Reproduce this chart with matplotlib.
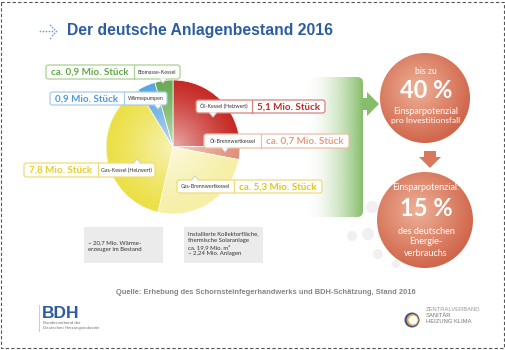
import numpy as np
import matplotlib
matplotlib.use("Agg")
import matplotlib.pyplot as plt
from matplotlib.patches import FancyBboxPatch, Circle, Polygon, Rectangle
from matplotlib.lines import Line2D
from matplotlib.colors import to_rgb

# ---------------- data ----------------
title = "Der deutsche Anlagenbestand 2016"
categories = ["Öl-Kessel (Heizwert)", "Öl-Brennwertkessel", "Gas-Brennwertkessel",
              "Gas-Kessel (Heizwert)", "Wärmepumpen", "Biomasse-Kessel"]
values = [5.1, 0.7, 5.3, 7.8, 0.9, 0.9]          # Mio. Stück
value_labels = ["5,1 Mio. Stück", "ca. 0,7 Mio. Stück", "ca. 5,3 Mio. Stück",
                "7,8 Mio. Stück", "0,9 Mio. Stück", "ca. 0,9 Mio. Stück"]
circle1_lines = ["bis zu", "40 %", "Einsparpotenzial", "pro Investitionsfall"]
circle2_lines = ["Einsparpotenzial:", "15 %", "des deutschen", "Energie-", "verbrauchs"]
note1 = "~ 20,7 Mio. Wärme-\nerzeuger im Bestand"
note2 = "Installierte Kollektorfläche,\nthermische Solaranlage\nca. 19,9 Mio. m²\n~ 2,24 Mio. Anlagen"
source = "Quelle: Erhebung des Schornsteinfegerhandwerks und BDH-Schätzung, Stand 2016"

# ---------------- style ----------------
slice_colors = ["#c62a25", "#e2917a", "#f6efa6", "#ece046", "#5ba6e0", "#6aab52"]
text_colors = ["#c0302a", "#e59c7e", "#e3c51c", "#e6cf2a", "#4d9ad6", "#62a64a"]
edge_colors = ["#d9827a", "#efbfa9", "#eedc78", "#efdc78", "#a6cdef", "#a9d192"]
# (x0, x1, y0, y1, xdiv, big_on_left, pointer_x, pointer_dir)
label_layout = [
    (196, 325, 100, 113, 252, False, 213, 1),
    (204, 349, 134, 148, 261, False, 225, 1),
    (177, 322, 180, 193, 234, False, 195, -1),
    (24, 155, 163, 177, 98, True, 137, -1),
    (50, 167, 92, 105, 124, True, 158, 1),
    (46, 180, 65, 79, 134, True, 163, 1),
]
SANS = ["Lato", "DejaVu Sans"]
ARIAL = ["Liberation Sans", "DejaVu Sans"]

W, H = 506, 350
fig = plt.figure(figsize=(W / 100, H / 100), dpi=100)
ax = fig.add_axes([0, 0, 1, 1])

# ---------------- pie ----------------
cx, cy, R = 173, 147, 67
wedges, _ = ax.pie(values, colors=slice_colors, startangle=-90, counterclock=True,
                   center=(cx, cy), radius=R, frame=True,
                   wedgeprops=dict(edgecolor="white", linewidth=0.5))
for w in wedges:
    w.set_zorder(2)

n = 300
yy, xx = np.mgrid[-1:1:n * 1j, -1:1:n * 1j]
rr = np.sqrt(xx ** 2 + yy ** 2)
img = np.ones((n, n, 4))
img[..., 3] = np.clip(0.62 * (1 - rr) ** 1.3, 0, 1)
im = ax.imshow(img, extent=(cx - R, cx + R, cy + R, cy - R), zorder=3, interpolation="bilinear")
im.set_clip_path(Circle((cx, cy), R, transform=ax.transData))

# ---------------- label boxes ----------------
for i, (x0, x1, y0, y1, xd, big_left, px, pdir) in enumerate(label_layout):
    ec = edge_colors[i]
    box = FancyBboxPatch((x0, y0), x1 - x0, y1 - y0,
                         boxstyle="round,pad=0,rounding_size=2.5",
                         fc="white", ec=ec, lw=0.9, zorder=5)
    ax.add_patch(box)
    ax.add_line(Line2D([xd, xd], [y0, y1], color=ec, lw=0.9, zorder=6))
    if pdir > 0:
        base, tip = y1, y1 + 4
    else:
        base, tip = y0, y0 - 4
    ax.add_patch(Polygon([(px - 3.5, base - pdir * 0.6), (px, tip), (px + 3.5, base - pdir * 0.6)],
                         closed=True, fc="white", ec="none", zorder=6))
    ax.add_line(Line2D([px - 3.5, px, px + 3.5], [base, tip, base], color="#cfcfcf", lw=0.7, zorder=6))
    ym = (y0 + y1) / 2
    if big_left:
        bx, sx = (x0 + xd) / 2, (xd + x1) / 2
    else:
        sx, bx = (x0 + xd) / 2, (xd + x1) / 2
    ax.text(bx, ym + 0.3, value_labels[i], color=text_colors[i], fontsize=7.1,
            fontweight="bold", family=SANS, ha="center", va="center", zorder=7)
    ax.text(sx, ym + 0.2, categories[i], color="#333333", fontsize=3.8,
            family=SANS, ha="center", va="center", zorder=7)

# ---------------- decorative grey dots ----------------
for (dx, dy, dr) in [(372, 207, 6), (352, 236, 5), (368, 234, 6), (384, 233, 6),
                     (378, 254, 5), (396, 264, 4)]:
    ax.add_patch(Circle((dx, dy), dr, fc="#f0f0f0", ec="none", zorder=0.5))

# ---------------- green arrow ----------------
gx0, gx1, gy0, gy1 = 305, 363, 77, 217
green = to_rgb("#86bd6a")
grad = np.zeros((1, 256, 4))
grad[..., :3] = green
grad[..., 3] = np.linspace(0, 1, 256) ** 1.8
gim = ax.imshow(grad, extent=(gx0, gx1, gy1, gy0), aspect="auto", zorder=1, interpolation="bilinear")
gclip = FancyBboxPatch((gx0, gy0), gx1 - gx0, gy1 - gy0, boxstyle="round,pad=0,rounding_size=6",
                       transform=ax.transData)
gim.set_clip_path(gclip)
ax.add_patch(Polygon([(362, 98), (367, 98), (367, 92), (379, 104), (367, 116), (367, 110), (362, 110)],
                     closed=True, fc="#86bd6a", ec="none", zorder=1.2))

# ---------------- orange circles ----------------
def grad_circle(x, y, r):
    m = 300
    gy, gx = np.mgrid[-1:1:m * 1j, -1:1:m * 1j]
    d = np.sqrt((gx + 0.15) ** 2 + (gy + 0.2) ** 2)
    t = np.clip(d / 1.2, 0, 1)[..., None]
    c0 = np.array(to_rgb("#eeb197"))
    c1 = np.array(to_rgb("#d0664b"))
    cimg = c0 * (1 - t) + c1 * t
    ci = ax.imshow(cimg, extent=(x - r, x + r, y + r, y - r), zorder=3, interpolation="bilinear")
    ci.set_clip_path(Circle((x, y), r, transform=ax.transData))

grad_circle(425, 98, 45)
grad_circle(425, 220, 48)

# down arrow
ax.add_patch(Polygon([(424, 151), (436, 151), (436, 157), (441, 157), (430, 168),
                      (419, 157), (424, 157)], closed=True, fc="#d8795e", ec="none", zorder=3))

c1_y = [71, 90, 111, 121]
c1_fs = [6.2, 17, 6.5, 6.1]
for s, yv, fs in zip(circle1_lines, c1_y, c1_fs):
    ax.text(426, yv, s, color="white", fontsize=fs, family=SANS, ha="center", va="center",
            fontweight="bold" if fs > 10 else "normal", zorder=4)
c2_y = [187, 209, 231, 242, 253]
c2_fs = [6.5, 17, 6.5, 6.5, 6.5]
for s, yv, fs in zip(circle2_lines, c2_y, c2_fs):
    ax.text(426, yv, s, color="white", fontsize=fs, family=SANS, ha="center", va="center",
            fontweight="bold" if fs > 10 else "normal", zorder=4)

# ---------------- notes ----------------
ax.add_patch(Rectangle((84, 227), 79, 36, fc="#ebebeb", ec="none", zorder=1))
ax.add_patch(Rectangle((184, 227), 79, 36, fc="#ebebeb", ec="none", zorder=1))
ax.text(88, 246, note1, fontsize=4.3, family=SANS, color="#333333", va="center", ha="left",
        linespacing=1.3, zorder=2)
ax.text(188, 244, note2, fontsize=4.3, family=SANS, color="#333333", va="center", ha="left",
        linespacing=1.3, zorder=2)

# ---------------- title ----------------
ax.text(67, 31, title, fontsize=11.3, fontweight="bold", family=ARIAL, color="#2d5da1",
        ha="left", va="center")
dots_x = [40, 43, 46, 49, 52, 56, 54, 52, 54, 52, 50, 50]
dots_y = [31, 31, 31, 31, 31, 31, 29, 27, 33, 35, 24.5, 37.5]
ax.scatter(dots_x, dots_y, s=1.6, color="#7a9fd0", zorder=2, linewidths=0)

# ---------------- source ----------------
ax.text(266, 293, source, fontsize=5.4, fontweight="bold", family=ARIAL, color="#858585",
        ha="center", va="center")

# ---------------- logos ----------------
ax.add_line(Line2D([39, 39], [305, 331], color="#cccccc", lw=0.8))
ax.text(42, 314, "BDH", fontsize=12.5, fontweight="bold", family=ARIAL, color="#2e5aa0",
        ha="left", va="center")
ax.text(43, 325.5, "Bundesverband der\nDeutschen Heizungsindustrie", fontsize=3.2, family=ARIAL,
        color="#777777", ha="left", va="center", linespacing=1.2)

ax.add_patch(Circle((412, 320), 7.5, fc="#34559b", ec="none"))
ax.add_patch(Circle((412.6, 320), 6.0, fc="#f0a030", ec="none"))
ax.add_patch(Circle((413, 320), 4.5, fc="white", ec="none"))
ax.text(426, 309.5, "ZENTRALVERBAND", fontsize=4.2, family=ARIAL, color="#9a9a9a",
        ha="left", va="center")
ax.text(426, 315.5, "SANITÄR", fontsize=4.2, family=ARIAL, color="#777777",
        ha="left", va="center")
ax.text(426, 321.5, "HEIZUNG KLIMA", fontsize=4.2, family=ARIAL, color="#777777",
        ha="left", va="center")

# ---------------- dashed border ----------------
ax.add_patch(Rectangle((1.5, 1.5), W - 3.5, H - 3.5, fc="none", ec="#555555", lw=0.8,
                       ls=(0, (3, 2)), zorder=10))

ax.set_xlim(0, W)
ax.set_ylim(H, 0)
ax.set_aspect("auto")
ax.axis("off")
fig.savefig("out.png", dpi=100, facecolor="white")
